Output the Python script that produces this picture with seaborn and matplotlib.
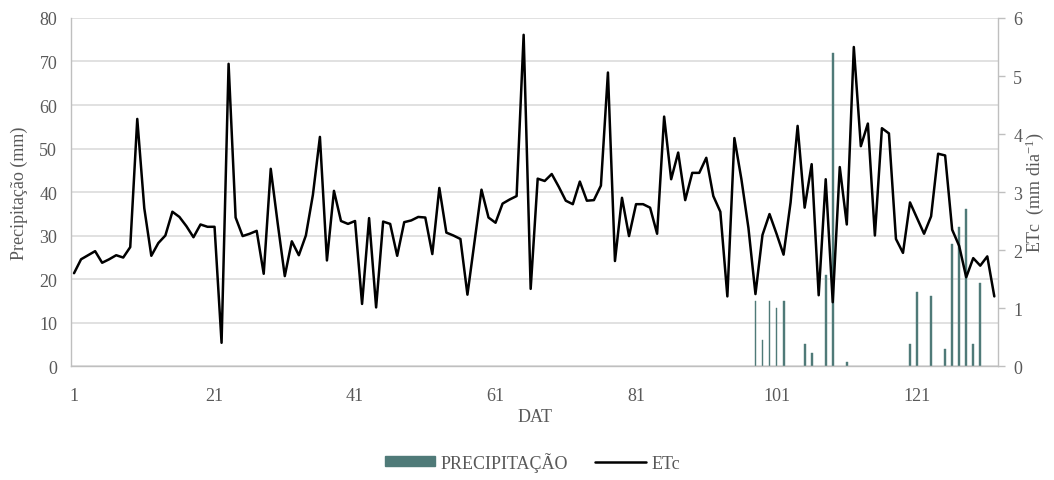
import numpy as np
import pandas as pd
import matplotlib
matplotlib.use("Agg")
import matplotlib.pyplot as plt
from matplotlib.patches import Patch
from matplotlib.lines import Line2D
import seaborn as sns

# ---------------- data ----------------
days = list(range(1, 133))
etc = [
    1.60, 1.84, 1.91, 1.98, 1.78, 1.84, 1.91, 1.87, 2.05, 4.26,
    2.72, 1.90, 2.12, 2.25, 2.66, 2.57, 2.41, 2.22, 2.44, 2.40,
    2.40, 0.40, 5.21, 2.56, 2.24, 2.28, 2.33, 1.59, 3.40, 2.45,
    1.55, 2.15, 1.91, 2.25, 2.95, 3.95, 1.82, 3.02, 2.50, 2.45,
    2.50, 1.07, 2.55, 1.01, 2.49, 2.45, 1.90, 2.48, 2.51, 2.57,
    2.56, 1.93, 3.07, 2.30, 2.25, 2.19, 1.23, 2.13, 3.04, 2.56,
    2.47, 2.80, 2.87, 2.93, 5.71, 1.33, 3.23, 3.19, 3.31, 3.09,
    2.85, 2.79, 3.18, 2.85, 2.86, 3.11, 5.06, 1.81, 2.90, 2.24,
    2.79, 2.79, 2.73, 2.28, 4.30, 3.22, 3.68, 2.86, 3.33, 3.33,
    3.59, 2.93, 2.66, 1.20, 3.93, 3.22, 2.38, 1.24, 2.26, 2.62,
    2.28, 1.92, 2.82, 4.14, 2.73, 3.48, 1.22, 3.22, 1.10, 3.43,
    2.44, 5.50, 3.79, 4.18, 2.25, 4.10, 4.01, 2.19, 1.95, 2.82,
    2.55, 2.28, 2.58, 3.66, 3.63, 2.35, 2.07, 1.53, 1.86, 1.73,
    1.89, 1.20,
]
precip_days = [98, 99, 100, 101, 102, 105, 106, 108, 109, 111,
               120, 121, 123, 125, 126, 127, 128, 129, 130]
precip_mm = [15, 6, 15, 13.3, 15, 5, 3, 21, 72, 1,
             5, 17, 16, 4, 28, 32, 36, 5, 19]
x_ticks = [1, 21, 41, 61, 81, 101, 121]
left_ticks = [0, 10, 20, 30, 40, 50, 60, 70, 80]
right_ticks = [0, 1, 2, 3, 4, 5, 6]

# ---------------- style ----------------
sns.set_theme(style="white")
plt.rcParams["font.family"] = ["Liberation Serif", "DejaVu Serif"]
plt.rcParams["mathtext.fontset"] = "custom"
plt.rcParams["mathtext.rm"] = "Liberation Serif"
plt.rcParams["mathtext.it"] = "Liberation Serif:italic"

TXT = "#595959"
GRID = "#d9d9d9"
AXC = "#bfbfbf"
BAR = "#4f7a78"
FS = 13

fig = plt.figure(figsize=(10.54, 4.81), dpi=100)
ax = fig.add_axes([0.0674, 0.237, 0.8795, 0.7235])

df_p = pd.DataFrame({"DAT": precip_days, "P": precip_mm})
df_e = pd.DataFrame({"DAT": days, "ETc": etc})

sns.barplot(data=df_p, x="DAT", y="P", native_scale=True, width=0.27,
            color=BAR, saturation=1, errorbar=None, ax=ax, zorder=2,
            edgecolor=BAR, linewidth=0.3)
ax.set_xlim(0.573, 132.53)
ax.set_ylim(0, 80)
ax.set_yticks(left_ticks)
ax.set_xticks(x_ticks)
ax.set_xticklabels([str(t) for t in x_ticks])
ax.yaxis.grid(True, color=GRID, linewidth=1.1)
ax.xaxis.grid(False)
ax.set_axisbelow(True)
ax.tick_params(axis="both", length=0, labelsize=FS, labelcolor=TXT)
ax.tick_params(axis="y", pad=10)
ax.tick_params(axis="x", pad=15)
ax.set_xlabel("DAT", fontsize=FS, color=TXT, labelpad=3)
ax.set_ylabel("Precipitação (mm)", fontsize=FS, color=TXT, labelpad=8)
for s in ["top", "right"]:
    ax.spines[s].set_visible(False)
for s in ["left", "bottom"]:
    ax.spines[s].set_color(AXC)
    ax.spines[s].set_linewidth(1.0)

ax2 = ax.twinx()
sns.lineplot(data=df_e, x="DAT", y="ETc", color="black", linewidth=1.8,
             ax=ax2, legend=False)
ax2.set_xlim(0.573, 132.53)
ax2.set_ylim(0, 6)
ax2.set_yticks(right_ticks)
ax2.grid(False)
ax2.tick_params(axis="y", length=5, width=1, color=AXC, direction="out",
                pad=6, labelsize=FS, labelcolor=TXT)
ax2.set_ylabel("ETc  (mm dia$^{-1}$)", fontsize=FS, color=TXT, labelpad=1)
for s in ["top", "left", "bottom"]:
    ax2.spines[s].set_visible(False)
ax2.spines["right"].set_color(AXC)
ax2.spines["right"].set_linewidth(1.0)

handles = [Patch(facecolor=BAR, edgecolor=BAR),
           Line2D([0], [0], color="black", linewidth=1.8)]
leg = fig.legend(handles, ["PRECIPITAÇÃO", "ETc"], loc="center",
                 bbox_to_anchor=(0.505, 0.038), ncol=2, frameon=False,
                 fontsize=FS, handlelength=2.8, handleheight=0.5,
                 handletextpad=0.3, columnspacing=1.5)
for t in leg.get_texts():
    t.set_color(TXT)

fig.savefig("out.png", dpi=100)
